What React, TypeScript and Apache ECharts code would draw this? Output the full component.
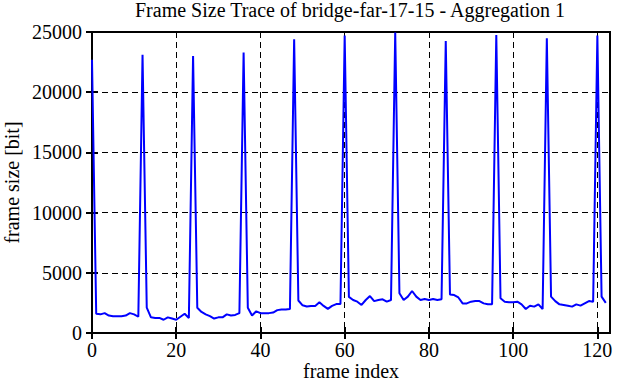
import React, { useEffect, useRef } from "react";
import * as echarts from "echarts";

const titleText = "Frame Size Trace of bridge-far-17-15 - Aggregation 1";
const xLabel = "frame index";
const yLabel = "frame size [bit]";
const xTicks = [0, 20, 40, 60, 80, 100, 120];
const yTicks = [0, 5000, 10000, 15000, 20000, 25000];

// frame sizes [bit] for frames 0..122
const frameSizes = [
  22700, 1600, 1550, 1650, 1450, 1400, 1400, 1400, 1450, 1650, 1550, 1350,
  23100, 2100, 1300, 1250, 1250, 1100, 1300, 1200, 1100, 1350, 1600, 1250,
  23000, 2100, 1750, 1550, 1400, 1200, 1300, 1300, 1550, 1450, 1500, 1650,
  23300, 2100, 1450, 1800, 1650, 1650, 1650, 1700, 1900, 1950, 1950, 2000,
  24400, 2700, 2300, 2200, 2250, 2250, 2550, 2250, 2000, 2250, 2400, 2400,
  24700, 3000, 2740, 2600, 2330, 2740, 3070, 2650, 2740, 2800, 2600, 2740,
  24950, 3300, 2740, 3020, 3490, 3020, 2740, 2820, 2740, 2820, 2740, 2800,
  24250, 3200, 3150, 2950, 2460, 2460, 2600, 2650, 2650, 2460, 2380, 2380,
  24750, 2880, 2600, 2550, 2550, 2600, 2380, 1990, 2270, 2190, 2380, 1990,
  24480, 3020, 2650, 2380, 2330, 2270, 2190, 2380, 2270, 2460, 2650, 2600,
  24700, 3020, 2500,
];

const FONT = "'Liberation Serif', 'Times New Roman', serif";

export default function App() {
  const ref = useRef<HTMLDivElement>(null);
  useEffect(() => {
    if (!ref.current) return;
    const chart = echarts.init(ref.current, null, { renderer: "svg" });
    const data = frameSizes.map((v, i) => [i, v]);
    const axisCommonX = {
      type: "value" as const,
      min: 0,
      max: 123,
      interval: 20,
    };
    const axisCommonY = {
      type: "value" as const,
      min: 0,
      max: 25000,
      interval: 5000,
    };
    const labelStyle = {
      fontFamily: FONT,
      fontSize: 20,
      fontWeight: "normal",
      color: "#000",
      formatter: (v: number) => String(v),
    };
    chart.setOption({
      animation: false,
      backgroundColor: "#ffffff",
      textStyle: { fontFamily: FONT, color: "#000" },
      title: {
        text: titleText,
        left: 135,
        top: 0,
        padding: 0,
        textStyle: {
          fontFamily: FONT,
          fontSize: 20,
          fontWeight: "normal",
          color: "#000",
        },
      },
      grid: {
        left: 92,
        right: 7,
        top: 32,
        bottom: 49,
        show: true,
        borderColor: "#000",
        borderWidth: 2,
        backgroundColor: "transparent",
        containLabel: false,
        outerBoundsMode: "none",
      },
      xAxis: [
        {
          ...axisCommonX,
          position: "bottom",
          name: xLabel,
          nameLocation: "middle",
          nameGap: 28,
          nameMoveOverlap: false,
          nameTextStyle: { fontFamily: FONT, fontSize: 20, color: "#000" },
          axisLine: { show: true, lineStyle: { color: "#000", width: 2 } },
          axisTick: {
            show: true,
            inside: true,
            length: 6,
            customValues: xTicks,
            lineStyle: { color: "#000", width: 2 },
          },
          axisLabel: {
            show: true,
            margin: 7,
            customValues: xTicks,
            ...labelStyle,
          },
          splitLine: {
            show: true,
            lineStyle: { color: "#000", width: 1, type: [6, 4] },
          },
        },
        {
          ...axisCommonX,
          position: "top",
          axisLine: { show: true, lineStyle: { color: "#000", width: 2 } },
          axisTick: {
            show: true,
            inside: true,
            length: 6,
            customValues: xTicks,
            lineStyle: { color: "#000", width: 2 },
          },
          axisLabel: { show: false },
          splitLine: { show: false },
        },
      ],
      yAxis: [
        {
          ...axisCommonY,
          position: "left",
          name: yLabel,
          nameLocation: "middle",
          nameGap: 70,
          nameMoveOverlap: false,
          nameTextStyle: { fontFamily: FONT, fontSize: 20, color: "#000" },
          axisLine: { show: true, lineStyle: { color: "#000", width: 2 } },
          axisTick: {
            show: true,
            inside: true,
            length: 6,
            customValues: yTicks,
            lineStyle: { color: "#000", width: 2 },
          },
          axisLabel: {
            show: true,
            margin: 10,
            customValues: yTicks,
            ...labelStyle,
          },
          splitLine: {
            show: true,
            lineStyle: { color: "#000", width: 1, type: [6, 4] },
          },
        },
        {
          ...axisCommonY,
          position: "right",
          axisLine: { show: true, lineStyle: { color: "#000", width: 2 } },
          axisTick: {
            show: true,
            inside: true,
            length: 6,
            customValues: yTicks,
            lineStyle: { color: "#000", width: 2 },
          },
          axisLabel: { show: false },
          splitLine: { show: false },
        },
      ],
      series: [
        {
          type: "line",
          xAxisIndex: 0,
          yAxisIndex: 0,
          data,
          showSymbol: false,
          symbol: "none",
          lineStyle: { color: "#0000ff", width: 2 },
          clip: true,
        },
      ],
    });
    return () => chart.dispose();
  }, []);
  return (
    <div
      ref={ref}
      style={{ position: "absolute", left: 0, top: 0, width: 617, height: 382 }}
    />
  );
}
